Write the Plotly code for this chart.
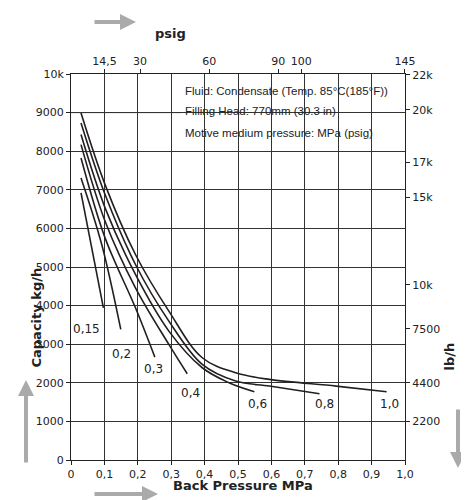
import plotly.graph_objects as go

series = {
 "1,0": ([0.03,0.102,0.193,0.293,0.393,0.493,0.594,0.794,0.945],[8990,7135,5324,3857,2649,2260,2088,1915,1769]),
 "0,8": ([0.03,0.102,0.193,0.293,0.393,0.493,0.594,0.744],[8732,6877,5065,3598,2476,2045,1915,1717]),
 "0,6": ([0.03,0.102,0.193,0.293,0.393,0.473,0.549],[8430,6532,4806,3339,2390,2002,1769]),
 "0,4": ([0.03,0.102,0.193,0.293,0.348],[8171,6186,4461,2994,2235]),
 "0,3": ([0.03,0.102,0.193,0.251],[7826,5755,3943,2666]),
 "0,2": ([0.03,0.092,0.149],[7308,5582,3382]),
 "0,15": ([0.03,0.097],[6920,3943]),
}
label_pos = {"0,15":(0.047,3382),"0,2":(0.15,2752),"0,3":(0.248,2347),"0,4":(0.358,1743),
             "0,6":(0.559,1441),"0,8":(0.759,1441),"1,0":(0.953,1441)}
x_ticks = [0,0.1,0.2,0.3,0.4,0.5,0.6,0.7,0.8,0.9,1.0]
x_labels = ["0","0,1","0,2","0,3","0,4","0,5","0,6","0,7","0,8","0,9","1,0"]
y_ticks = list(range(0,10001,1000))
psig_ticks = [14.5,30,60,90,100,145]
psig_labels = ["14,5","30","60","90","100","145"]
lbh_ticks = [2200,4400,7500,10000,15000,17000,20000,22000]
notes = ["Fluid: Condensate (Temp. 85°C(185°F))","Filling Head: 770mm (30.3 in)","Motive medium pressure: MPa (psig)"]
note_y = [9550,9030,8470]

F = "DejaVu Sans"
fig = go.Figure()
for name,(xs,ys) in series.items():
    fig.add_trace(go.Scatter(x=xs,y=ys,mode="lines",line=dict(color="#231f20",width=1.6,shape="spline"),showlegend=False))
fig.add_trace(go.Scatter(x=[v/145.04 for v in psig_ticks],y=[None]*6,xaxis="x2",showlegend=False))
fig.add_trace(go.Scatter(x=[0],y=[None],yaxis="y2",showlegend=False))
for k,(x,y) in label_pos.items():
    fig.add_annotation(x=x,y=y,text=k,showarrow=False,font=dict(family=F,size=12,color="#222"))
fig.add_shape(type="rect",x0=0.33,x1=1.0,y0=8150,y1=10000,fillcolor="white",line_width=0,layer="below")
fig.add_shape(type="line",x0=0.0,x1=0.33,y0=9000,y1=9000,line=dict(color="#333",width=1),layer="below")
for t,y in zip(notes,note_y):
    fig.add_annotation(x=0.335,y=y,text=t,showarrow=False,xanchor="left",font=dict(family="Liberation Sans",size=11.5,color="#222"))

ax = dict(showline=True,linecolor="#222",linewidth=1,ticks="outside",ticklen=4,tickcolor="#222",
          tickfont=dict(family=F,size=11,color="#222"))
fig.update_layout(
    width=469,height=500,margin=dict(l=63,r=72,t=66,b=48),
    paper_bgcolor="white",plot_bgcolor="white",
    xaxis=dict(range=[0,1],tickvals=x_ticks,ticktext=x_labels,showgrid=True,gridcolor="#333",gridwidth=1,zeroline=False,mirror=True,**ax),
    yaxis=dict(range=[0,10000],tickvals=y_ticks,showgrid=True,gridcolor="#333",gridwidth=1,zeroline=False,mirror=True,**ax),
    xaxis2=dict(range=[0,145.04],overlaying="x",side="top",tickvals=psig_ticks,ticktext=psig_labels,showgrid=False,**ax),
    yaxis2=dict(range=[0,22046],overlaying="y",side="right",tickvals=lbh_ticks,showgrid=False,**ax),
)
def px(xp,yp): return (xp-63)/334,(452-yp)/386
def arrow(x0,y0,x1,y1):
    a,b=px(x1,y1)
    fig.add_annotation(x=a,y=b,ax=x0-x1,ay=y0-y1,xref="paper",yref="paper",axref="pixel",ayref="pixel",
        showarrow=True,arrowhead=2,arrowsize=0.8,arrowwidth=4,arrowcolor="#aaa",text="")
def label(x,y,t,rot=0):
    a,b=px(x,y)
    fig.add_annotation(x=a,y=b,xref="paper",yref="paper",text="<b>"+t+"</b>",showarrow=False,textangle=rot,
        font=dict(family=F,size=13,color="#222"))
arrow(85,14,128,14); label(145,16,"psig")
arrow(85,486,150,486); label(235,487,"Back Pressure MPa")
arrow(18,456,18,372); label(18,310,"Capacity kg/h",-90)
arrow(450,400,450,460); label(450,365,"lb/h",-90)
fig.write_html("out.html")
